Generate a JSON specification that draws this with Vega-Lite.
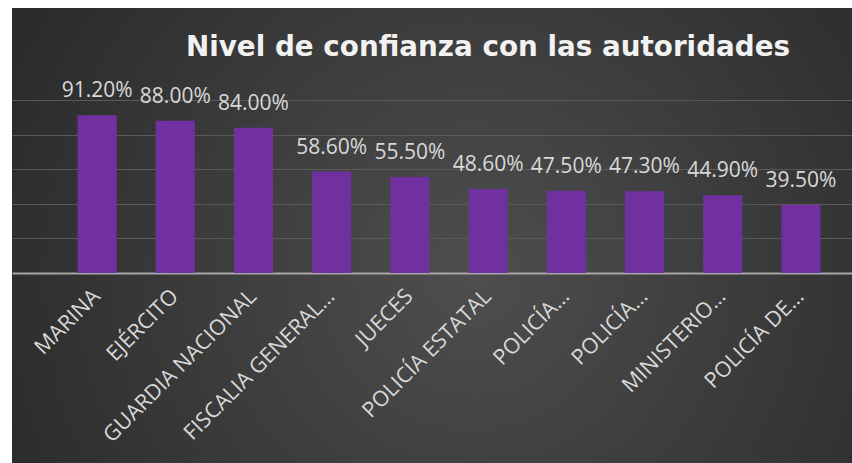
{
  "$schema": "https://vega.github.io/schema/vega-lite/v6.json",
  "autosize": {"type": "none"},
  "padding": {"left": 12, "top": 8, "right": 0, "bottom": 0},
  "width": 840,
  "height": 455,
  "background": "white",
  "title": {
    "text": "Nivel de confianza con las autoridades",
    "orient": "top",
    "frame": "group",
    "anchor": "middle",
    "dx": 56,
    "offset": -76,
    "baseline": "alphabetic",
    "font": "DejaVu Sans",
    "fontSize": 27.8,
    "fontWeight": "bold",
    "color": "#f2f2f2"
  },
  "config": {
    "view": {
      "stroke": null,
      "fill": {
        "gradient": "radial",
        "x1": 0.55, "y1": 0.55, "r1": 0,
        "x2": 0.55, "y2": 0.55, "r2": 0.75,
        "stops": [
          {"offset": 0, "color": "#4e4e4e"},
          {"offset": 1, "color": "#232323"}
        ]
      }
    }
  },
  "data": {
    "values": [
      {"autoridad": "MARINA", "confianza": 0.912},
      {"autoridad": "EJÉRCITO", "confianza": 0.88},
      {"autoridad": "GUARDIA NACIONAL", "confianza": 0.84},
      {"autoridad": "FISCALIA GENERAL DE LA REPÚBLICA", "confianza": 0.586},
      {"autoridad": "JUECES", "confianza": 0.555},
      {"autoridad": "POLICÍA ESTATAL", "confianza": 0.486},
      {"autoridad": "POLICÍA MINISTERIAL O JUDICIAL", "confianza": 0.475},
      {"autoridad": "POLICÍA PREVENTIVA MUNICIPAL", "confianza": 0.473},
      {"autoridad": "MINISTERIO PÚBLICO Y FISCALÍAS ESTATALES", "confianza": 0.449},
      {"autoridad": "POLICÍA DE TRÁNSITO", "confianza": 0.395}
    ]
  },
  "encoding": {
    "x": {
      "field": "autoridad",
      "type": "nominal",
      "sort": null,
      "scale": {"paddingInner": 0.5, "paddingOuter": 0.621, "align": 0.675},
      "axis": {
        "title": null,
        "orient": "bottom",
        "offset": -190,
        "domain": false,
        "ticks": false,
        "labelAngle": -45,
        "labelAlign": "right",
        "labelBaseline": "middle",
        "labelPadding": 20,
        "labelFont": "Open Sans",
        "labelFontSize": 21.5,
        "labelColor": "#d9d9d9",
        "labelLimit": 400,
        "labelExpr": "datum.value == 'FISCALIA GENERAL DE LA REPÚBLICA' ? 'FISCALIA GENERAL…' : datum.value == 'POLICÍA MINISTERIAL O JUDICIAL' ? 'POLICÍA…' : datum.value == 'POLICÍA PREVENTIVA MUNICIPAL' ? 'POLICÍA…' : datum.value == 'MINISTERIO PÚBLICO Y FISCALÍAS ESTATALES' ? 'MINISTERIO…' : datum.value == 'POLICÍA DE TRÁNSITO' ? 'POLICÍA DE…' : datum.value"
      }
    },
    "y": {
      "field": "confianza",
      "type": "quantitative",
      "scale": {"domain": [-1.0983, 1.5318], "nice": false, "zero": false},
      "axis": {
        "title": null,
        "labels": false,
        "ticks": false,
        "domain": false,
        "values": [0, 0.2, 0.4, 0.6, 0.8, 1],
        "grid": true,
        "gridColor": {"condition": {"test": "datum.value === 0", "value": "#a6a6a6"}, "value": "#5a5a5a"},
        "gridWidth": {"condition": {"test": "datum.value === 0", "value": 2}, "value": 1}
      }
    }
  },
  "layer": [
    {"mark": {"type": "bar", "color": "#7030a0"}},
    {
      "mark": {"type": "text", "baseline": "alphabetic", "dy": -18, "font": "Open Sans", "fontSize": 21, "color": "#d9d9d9"},
      "encoding": {"text": {"field": "confianza", "type": "quantitative", "format": ".2%"}}
    }
  ]
}
